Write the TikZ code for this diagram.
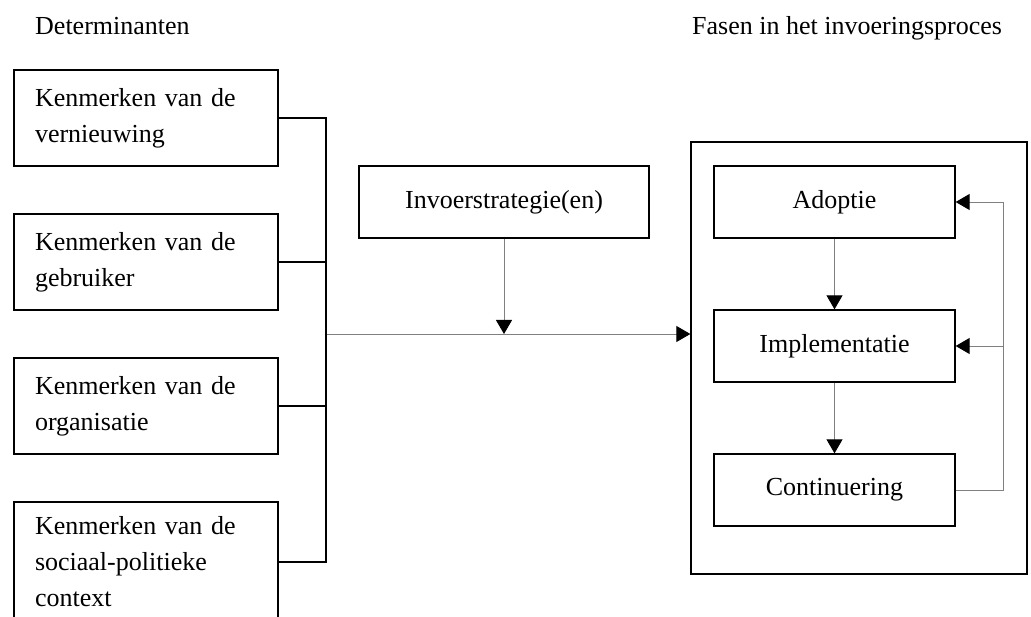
\documentclass[tikz,border=0pt]{standalone}
\usepackage{fontspec}
\setmainfont{Liberation Serif}
\usetikzlibrary{arrows.meta, positioning}

\tikzset{
  kenmerk/.style={draw, line width=1.3pt, text width=222pt, inner xsep=21pt, minimum height=96pt, align=left},
  fase/.style={draw, line width=1.3pt, minimum width=241pt, minimum height=72pt},
  pijl/.style={draw=gray, line width=0.9pt, -{Triangle[length=14pt, width=16pt, black]}},
  lijn/.style={line width=1.1pt}
}

\begin{document}
\begin{tikzpicture}[x=1pt, y=-1pt, font=\fontsize{26}{36}\selectfont]
  \clip (0,0) rectangle (1031,617);

  % Titles
  \node[anchor=base west, inner sep=0] (dettitel) at (35,35) {Determinanten};
  \node[anchor=base west, inner sep=0] (fasetitel) at (692,35) {Fasen in het invoeringsproces};

  % Determinanten
  \node[kenmerk] (k1) at (146,118) {Kenmerken van de\\vernieuwing};
  \node[kenmerk] (k2) at (146,262) {Kenmerken van de\\gebruiker};
  \node[kenmerk] (k3) at (146,406) {Kenmerken van de\\organisatie};
  \node[kenmerk, minimum height=120pt] (k4) at (146,562) {Kenmerken van de\\sociaal-politieke\\context};
  \coordinate (samen) at (326,334);

  % Strategie
  \node[fase, minimum width=290pt] (strategie) at (504,202) {Invoerstrategie(en)};

  % Fasen
  \node[draw, line width=1.3pt, minimum width=336pt, minimum height=432pt] (fasen) at (859,358) {};
  \node[fase] (adoptie) at (834.5,202) {Adoptie};
  \node[fase] (impl) at (834.5,346) {Implementatie};
  \node[fase] (cont) at (834.5,490) {Continuering};
  \coordinate (terug) at (1003,490);

  % Arrows
  \draw[pijl] (samen) -- (samen -| fasen.west);
  \draw[pijl] (strategie.south) -- (strategie.south |- samen);
  \draw[pijl] (adoptie.south) -- (impl.north);
  \draw[pijl] (impl.south) -- (cont.north);
  \draw[pijl] (cont.east) -- (terug) |- (adoptie.east);
  \draw[pijl] (terug |- impl.east) -- (impl.east);

  % Bar
  \draw[lijn] (k1.east) -| (samen);
  \draw[lijn] (k2.east) -| (samen);
  \draw[lijn] (k3.east) -| (samen);
  \draw[lijn] (k4.east) -| (samen);
\end{tikzpicture}
\end{document}
